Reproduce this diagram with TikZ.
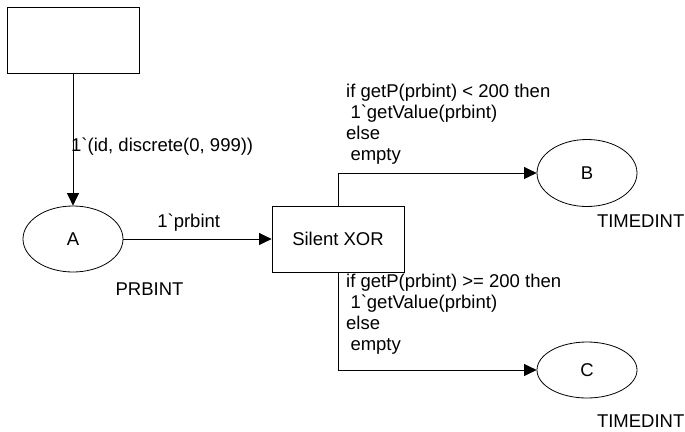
\documentclass[tikz,border=0pt]{standalone}
\usepackage{fontspec}
\newfontfamily\netfont{Liberation Sans}
\usetikzlibrary{arrows.meta,shapes.geometric}
\newcommand{\bq}{\char"0060\relax}
\begin{document}
\begin{tikzpicture}[x=1pt,y=-1pt,
  every node/.style={font=\netfont\fontsize{18.5}{21.2}\selectfont, inner sep=0pt},
  trans/.style={draw, line width=0.8pt, rectangle, minimum width=132pt, minimum height=66pt},
  place/.style={draw, line width=0.8pt, ellipse, minimum width=100pt, minimum height=66pt},
  arc/.style={line width=0.8pt, -{Triangle[length=12.5pt,width=12pt]}},
  lbl/.style={anchor=base},
  inscr/.style={anchor=base west, align=left}]
\useasboundingbox (0,0) rectangle (685,431);

% transitions
\node[trans] (src) at (73,40) {};
\node[trans] (xor) at (338,239) {Silent XOR};

% places
\node[place] (A) at (73,239) {A};
\node[place, minimum height=67pt] (B) at (587,173) {B};
\node[place, minimum height=56pt] (C) at (587,370) {C};

% colour sets
\node[lbl] (tA) at (149.5,295.7) {PRBINT};
\node[lbl] (tB) at (640.7,227.7) {TIMEDINT};
\node[lbl] (tC) at (640.7,427.7) {TIMEDINT};

% arcs
\draw[arc] (src.south) -- (A.north);
\draw[arc] (A.east) -- (xor.west);
\draw[arc] (xor.north) |- (B.west);
\draw[arc] (xor.south) |- (C.west);

% arc inscriptions (multi-line ones are anchored on their last baseline)
\node[inscr] (e1) at (71,151.5) {1\bq(id, discrete(0, 999))};
\node[lbl] (e2) at (188.7,227.7) {1\bq prbint};
\node[inscr] (e3) at (346,160.7) {if getP(prbint) < 200 then\\
  \hspace*{4.3pt}1\bq getValue(prbint)\\
  else\\
  \hspace*{4.3pt}empty};
\node[inscr] (e4) at (346,350.7) {if getP(prbint) >= 200 then\\
  \hspace*{4.3pt}1\bq getValue(prbint)\\
  else\\
  \hspace*{4.3pt}empty};
\end{tikzpicture}
\end{document}
